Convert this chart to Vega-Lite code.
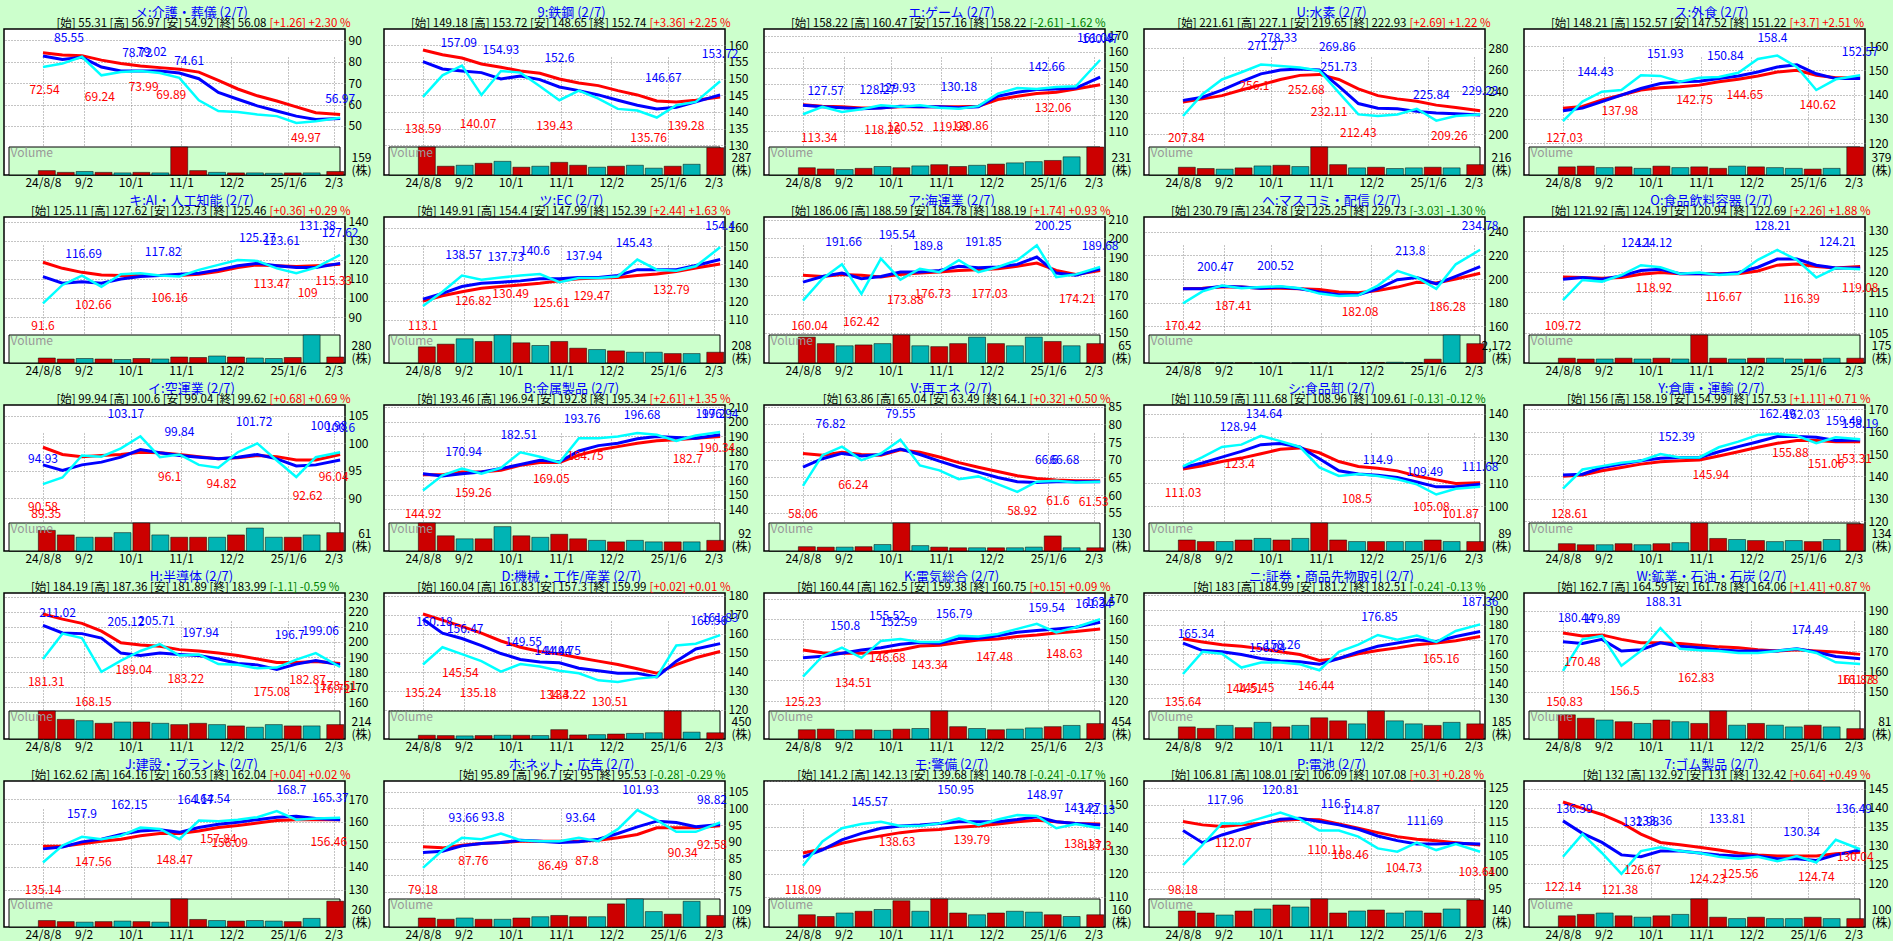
{
"$schema":"https://vega.github.io/schema/vega-lite/v6.json",
"background":"#ccffcc",
"padding":{"left":3,"top":4,"right":0,"bottom":0},
"data":{"values":[
{"p":1,"d":"2024-08-08","a":84.3,"b":82.7,"c":77.6,"v":25,"u":1},{"p":1,"d":"2024-08-20","a":83.2,"b":81.1,"c":79.2,"v":15,"u":1},{"p":1,"d":"2024-09-01","a":82.9,"b":82.1,"c":82.4,"v":20,"u":0},{"p":1,"d":"2024-09-13","a":80.8,"b":77.6,"c":73.7,"v":15,"u":1},{"p":1,"d":"2024-09-25","a":79.2,"b":75.7,"c":75.2,"v":12,"u":0},{"p":1,"d":"2024-10-07","a":78.1,"b":75.7,"c":75.7,"v":15,"u":1},{"p":1,"d":"2024-10-19","a":77.3,"b":75.7,"c":74.8,"v":12,"u":0},{"p":1,"d":"2024-10-31","a":76.5,"b":74.8,"c":72.5,"v":159,"u":1},{"p":1,"d":"2024-11-12","a":75.2,"b":72.1,"c":62,"v":25,"u":1},{"p":1,"d":"2024-11-24","a":71.3,"b":65.7,"c":57,"v":15,"u":0},{"p":1,"d":"2024-12-06","a":67.3,"b":62.5,"c":56.5,"v":12,"u":1},{"p":1,"d":"2024-12-18","a":64.1,"b":59.4,"c":55.4,"v":12,"u":0},{"p":1,"d":"2024-12-30","a":61.7,"b":57,"c":54.6,"v":10,"u":0},{"p":1,"d":"2025-01-11","a":58.9,"b":54.6,"c":51.4,"v":12,"u":1},{"p":1,"d":"2025-01-23","a":56.2,"b":53,"c":52.2,"v":12,"u":0},{"p":1,"d":"2025-02-07","a":55.4,"b":53.5,"c":53.8,"v":20,"u":1},
{"p":2,"d":"2024-08-08","a":158.6,"b":155.1,"c":144.5,"v":287,"u":1},{"p":2,"d":"2024-08-20","a":157.2,"b":152.9,"c":151,"v":90,"u":1},{"p":2,"d":"2024-09-01","a":156.2,"b":152.3,"c":153.9,"v":100,"u":0},{"p":2,"d":"2024-09-13","a":154.4,"b":151.8,"c":145.1,"v":120,"u":1},{"p":2,"d":"2024-09-25","a":153.4,"b":149.9,"c":152.3,"v":140,"u":0},{"p":2,"d":"2024-10-07","a":152.3,"b":150.8,"c":151.8,"v":80,"u":1},{"p":2,"d":"2024-10-19","a":151.6,"b":149.7,"c":147.7,"v":90,"u":0},{"p":2,"d":"2024-10-31","a":149.9,"b":147.5,"c":143.5,"v":130,"u":1},{"p":2,"d":"2024-11-12","a":148.7,"b":146.4,"c":146.4,"v":100,"u":1},{"p":2,"d":"2024-11-24","a":147.9,"b":145.1,"c":144,"v":80,"u":0},{"p":2,"d":"2024-12-06","a":146.4,"b":143.5,"c":140.9,"v":90,"u":1},{"p":2,"d":"2024-12-18","a":145.1,"b":142,"c":140.4,"v":100,"u":0},{"p":2,"d":"2024-12-30","a":143.3,"b":140.9,"c":138.3,"v":70,"u":0},{"p":2,"d":"2025-01-11","a":143,"b":141.4,"c":142,"v":90,"u":1},{"p":2,"d":"2025-01-23","a":143.5,"b":143,"c":143,"v":110,"u":0},{"p":2,"d":"2025-02-07","a":144.5,"b":145.1,"c":149.2,"v":280,"u":1},
{"p":3,"d":"2024-08-08","a":126.7,"b":126.3,"c":120.7,"v":60,"u":1},{"p":3,"d":"2024-08-20","a":125.8,"b":125.4,"c":125.4,"v":50,"u":1},{"p":3,"d":"2024-09-01","a":125.4,"b":124.8,"c":122.1,"v":45,"u":0},{"p":3,"d":"2024-09-13","a":124.6,"b":124.2,"c":123.8,"v":55,"u":1},{"p":3,"d":"2024-09-25","a":124.8,"b":124.6,"c":126.3,"v":70,"u":0},{"p":3,"d":"2024-10-07","a":125.4,"b":125.8,"c":125.4,"v":60,"u":1},{"p":3,"d":"2024-10-19","a":125.4,"b":125.4,"c":126.3,"v":75,"u":0},{"p":3,"d":"2024-10-31","a":125.4,"b":125.4,"c":124.8,"v":85,"u":1},{"p":3,"d":"2024-11-12","a":125.4,"b":124.8,"c":124.2,"v":70,"u":1},{"p":3,"d":"2024-11-24","a":125.8,"b":125.4,"c":125.8,"v":80,"u":0},{"p":3,"d":"2024-12-06","a":130,"b":132,"c":133.7,"v":90,"u":1},{"p":3,"d":"2024-12-18","a":132,"b":134.5,"c":137.2,"v":100,"u":0},{"p":3,"d":"2024-12-30","a":133.7,"b":136.2,"c":136.6,"v":110,"u":0},{"p":3,"d":"2025-01-11","a":134.5,"b":136.6,"c":137.8,"v":120,"u":1},{"p":3,"d":"2025-01-23","a":136.6,"b":137.2,"c":138.3,"v":150,"u":0},{"p":3,"d":"2025-02-07","a":139.3,"b":144,"c":154.8,"v":231,"u":1},
{"p":4,"d":"2024-08-08","a":230.1,"b":231.6,"c":217.1,"v":60,"u":1},{"p":4,"d":"2024-08-20","a":233,"b":234.5,"c":237.4,"v":50,"u":1},{"p":4,"d":"2024-09-01","a":236,"b":241.2,"c":251,"v":45,"u":0},{"p":4,"d":"2024-09-13","a":241.2,"b":249,"c":257.7,"v":55,"u":1},{"p":4,"d":"2024-09-25","a":246,"b":256.2,"c":264.9,"v":70,"u":0},{"p":4,"d":"2024-10-07","a":251,"b":259.7,"c":263.5,"v":75,"u":1},{"p":4,"d":"2024-10-19","a":254.8,"b":260.6,"c":262,"v":65,"u":0},{"p":4,"d":"2024-10-31","a":255.7,"b":259.7,"c":259.1,"v":216,"u":1},{"p":4,"d":"2024-11-12","a":251,"b":244.6,"c":238.8,"v":80,"u":1},{"p":4,"d":"2024-11-24","a":242.3,"b":228.7,"c":218.6,"v":55,"u":0},{"p":4,"d":"2024-12-06","a":236,"b":224.3,"c":217.1,"v":60,"u":1},{"p":4,"d":"2024-12-18","a":233,"b":223.8,"c":218.6,"v":50,"u":0},{"p":4,"d":"2024-12-30","a":230.7,"b":221.4,"c":223.8,"v":55,"u":0},{"p":4,"d":"2025-01-11","a":227.2,"b":220,"c":212.8,"v":60,"u":1},{"p":4,"d":"2025-01-23","a":224.9,"b":219.1,"c":217.1,"v":55,"u":0},{"p":4,"d":"2025-02-07","a":222,"b":218,"c":218.6,"v":80,"u":1},
{"p":5,"d":"2024-08-08","a":134.4,"b":133.3,"c":129,"v":110,"u":1},{"p":5,"d":"2024-08-20","a":135.1,"b":134.4,"c":137.1,"v":120,"u":1},{"p":5,"d":"2024-09-01","a":137.8,"b":137.1,"c":141.2,"v":100,"u":0},{"p":5,"d":"2024-09-13","a":139.8,"b":139.8,"c":141.9,"v":110,"u":1},{"p":5,"d":"2024-09-25","a":141.9,"b":142.5,"c":148,"v":90,"u":0},{"p":5,"d":"2024-10-07","a":142.8,"b":144.6,"c":147.7,"v":120,"u":1},{"p":5,"d":"2024-10-19","a":143.2,"b":145.3,"c":145.3,"v":100,"u":0},{"p":5,"d":"2024-10-31","a":143.9,"b":145.5,"c":146.9,"v":110,"u":1},{"p":5,"d":"2024-11-12","a":145.3,"b":146.6,"c":147.3,"v":90,"u":1},{"p":5,"d":"2024-11-24","a":146.3,"b":147.7,"c":149,"v":120,"u":0},{"p":5,"d":"2024-12-06","a":147.7,"b":149.3,"c":154.7,"v":110,"u":1},{"p":5,"d":"2024-12-18","a":149.3,"b":151.4,"c":156.1,"v":100,"u":0},{"p":5,"d":"2024-12-30","a":150,"b":152.3,"c":151.4,"v":90,"u":0},{"p":5,"d":"2025-01-11","a":148,"b":148.6,"c":141.9,"v":80,"u":1},{"p":5,"d":"2025-01-23","a":146.9,"b":146.6,"c":146.3,"v":90,"u":0},{"p":5,"d":"2025-02-07","a":146.9,"b":146.6,"c":148,"v":379,"u":1},
{"p":6,"d":"2024-08-08","a":118.7,"b":111.2,"c":97.2,"v":50,"u":1},{"p":6,"d":"2024-08-20","a":115.5,"b":107.7,"c":106.8,"v":40,"u":1},{"p":6,"d":"2024-09-01","a":113.4,"b":108.5,"c":111.7,"v":45,"u":0},{"p":6,"d":"2024-09-13","a":112,"b":107.7,"c":105.9,"v":40,"u":1},{"p":6,"d":"2024-09-25","a":111.7,"b":109.9,"c":112.4,"v":35,"u":0},{"p":6,"d":"2024-10-07","a":111.7,"b":111.2,"c":112.9,"v":45,"u":1},{"p":6,"d":"2024-10-19","a":111.7,"b":111.7,"c":111.7,"v":40,"u":0},{"p":6,"d":"2024-10-31","a":111.7,"b":112.4,"c":111.2,"v":60,"u":1},{"p":6,"d":"2024-11-12","a":112.4,"b":112.9,"c":114.7,"v":55,"u":1},{"p":6,"d":"2024-11-24","a":113.8,"b":114.7,"c":117.3,"v":70,"u":0},{"p":6,"d":"2024-12-06","a":115.9,"b":116.9,"c":119.9,"v":60,"u":1},{"p":6,"d":"2024-12-18","a":117.3,"b":118.1,"c":119.4,"v":50,"u":0},{"p":6,"d":"2024-12-30","a":116.9,"b":116.9,"c":115.5,"v":45,"u":0},{"p":6,"d":"2025-01-11","a":116.4,"b":115.9,"c":112.9,"v":55,"u":1},{"p":6,"d":"2025-01-23","a":116.9,"b":115.9,"c":115.9,"v":280,"u":0},{"p":6,"d":"2025-02-07","a":117.6,"b":118.1,"c":122.5,"v":60,"u":1},
{"p":7,"d":"2024-08-08","a":120.1,"b":121.2,"c":117.5,"v":120,"u":1},{"p":7,"d":"2024-08-20","a":123,"b":124.3,"c":125.2,"v":140,"u":1},{"p":7,"d":"2024-09-01","a":125.2,"b":128,"c":134,"v":180,"u":0},{"p":7,"d":"2024-09-13","a":127.1,"b":129.8,"c":131.7,"v":160,"u":1},{"p":7,"d":"2024-09-25","a":128,"b":130.4,"c":132.9,"v":208,"u":0},{"p":7,"d":"2024-10-07","a":128.9,"b":131.1,"c":134,"v":150,"u":1},{"p":7,"d":"2024-10-19","a":129.8,"b":132.2,"c":134.8,"v":130,"u":0},{"p":7,"d":"2024-10-31","a":131.1,"b":132.2,"c":130.4,"v":160,"u":1},{"p":7,"d":"2024-11-12","a":132.2,"b":132.9,"c":132.6,"v":110,"u":1},{"p":7,"d":"2024-11-24","a":132.6,"b":132.9,"c":132.6,"v":100,"u":0},{"p":7,"d":"2024-12-06","a":132.9,"b":134,"c":133.5,"v":90,"u":1},{"p":7,"d":"2024-12-18","a":134,"b":137.2,"c":142.7,"v":80,"u":0},{"p":7,"d":"2024-12-30","a":134.8,"b":137.2,"c":137.2,"v":80,"u":0},{"p":7,"d":"2025-01-11","a":136.2,"b":137.2,"c":136.6,"v":70,"u":1},{"p":7,"d":"2025-01-23","a":138.1,"b":139.5,"c":139,"v":70,"u":0},{"p":7,"d":"2025-02-07","a":140.3,"b":142.7,"c":149.4,"v":80,"u":1},
{"p":8,"d":"2024-08-08","a":180.5,"b":176.9,"c":167.1,"v":60,"u":1},{"p":8,"d":"2024-08-20","a":179.9,"b":179.9,"c":178.7,"v":45,"u":1},{"p":8,"d":"2024-09-01","a":181,"b":181.7,"c":186.3,"v":40,"u":0},{"p":8,"d":"2024-09-13","a":180.5,"b":178.7,"c":170.7,"v":42,"u":1},{"p":8,"d":"2024-09-25","a":179.6,"b":179.9,"c":189.3,"v":45,"u":0},{"p":8,"d":"2024-10-07","a":181,"b":182.2,"c":178.2,"v":65,"u":1},{"p":8,"d":"2024-10-19","a":181.7,"b":182.2,"c":184,"v":40,"u":0},{"p":8,"d":"2024-10-31","a":182.2,"b":183.1,"c":182.2,"v":38,"u":1},{"p":8,"d":"2024-11-12","a":183.1,"b":185.3,"c":188.5,"v":45,"u":1},{"p":8,"d":"2024-11-24","a":183.5,"b":184.5,"c":182.2,"v":60,"u":0},{"p":8,"d":"2024-12-06","a":184,"b":184.9,"c":184.9,"v":45,"u":1},{"p":8,"d":"2024-12-18","a":185.3,"b":186.3,"c":188.5,"v":40,"u":0},{"p":8,"d":"2024-12-30","a":187,"b":190.2,"c":196.4,"v":60,"u":0},{"p":8,"d":"2025-01-11","a":183.1,"b":181.7,"c":179.6,"v":50,"u":1},{"p":8,"d":"2025-01-23","a":181,"b":180.5,"c":181,"v":40,"u":0},{"p":8,"d":"2025-02-07","a":183.1,"b":184,"c":184.9,"v":45,"u":1},
{"p":9,"d":"2024-08-08","a":191.8,"b":191.8,"c":179.4,"v":30,"u":1},{"p":9,"d":"2024-08-20","a":192.3,"b":191.8,"c":189.6,"v":20,"u":1},{"p":9,"d":"2024-09-01","a":193.2,"b":194,"c":194.5,"v":20,"u":0},{"p":9,"d":"2024-09-13","a":193.2,"b":193.2,"c":192.3,"v":20,"u":1},{"p":9,"d":"2024-09-25","a":192.3,"b":192.3,"c":193.2,"v":15,"u":0},{"p":9,"d":"2024-10-07","a":192.3,"b":193.2,"c":194,"v":15,"u":1},{"p":9,"d":"2024-10-19","a":191.8,"b":191.8,"c":192.3,"v":15,"u":0},{"p":9,"d":"2024-10-31","a":191.2,"b":189,"c":187.7,"v":15,"u":1},{"p":9,"d":"2024-11-12","a":189,"b":186.8,"c":185.7,"v":15,"u":1},{"p":9,"d":"2024-11-24","a":188.5,"b":186.8,"c":186.3,"v":20,"u":0},{"p":9,"d":"2024-12-06","a":190.4,"b":191.8,"c":194.5,"v":40,"u":1},{"p":9,"d":"2024-12-18","a":193.2,"b":199.5,"c":206.9,"v":60,"u":0},{"p":9,"d":"2024-12-30","a":197.3,"b":201.4,"c":201.4,"v":40,"u":0},{"p":9,"d":"2025-01-11","a":196.7,"b":195.9,"c":191.8,"v":300,"u":1},{"p":9,"d":"2025-01-23","a":200.1,"b":202.3,"c":212.5,"v":2172,"u":0},{"p":9,"d":"2025-02-07","a":205,"b":210.5,"c":224.8,"v":1500,"u":1},
{"p":10,"d":"2024-08-08","a":118.7,"b":118.2,"c":113.1,"v":30,"u":1},{"p":10,"d":"2024-08-20","a":118.6,"b":118.6,"c":118,"v":25,"u":1},{"p":10,"d":"2024-09-01","a":118.4,"b":118.2,"c":117.6,"v":25,"u":0},{"p":10,"d":"2024-09-13","a":118.6,"b":119,"c":119.2,"v":30,"u":1},{"p":10,"d":"2024-09-25","a":119.4,"b":120.3,"c":121.6,"v":25,"u":0},{"p":10,"d":"2024-10-07","a":119.8,"b":120.6,"c":121.1,"v":30,"u":1},{"p":10,"d":"2024-10-19","a":119.5,"b":119.5,"c":119.5,"v":25,"u":0},{"p":10,"d":"2024-10-31","a":119.5,"b":119.5,"c":119.8,"v":175,"u":1},{"p":10,"d":"2024-11-12","a":119.5,"b":119.4,"c":119.2,"v":30,"u":1},{"p":10,"d":"2024-11-24","a":119.5,"b":119.8,"c":119.5,"v":25,"u":0},{"p":10,"d":"2024-12-06","a":120.2,"b":121.1,"c":122.9,"v":30,"u":1},{"p":10,"d":"2024-12-18","a":121.6,"b":123.1,"c":125.3,"v":30,"u":0},{"p":10,"d":"2024-12-30","a":121.9,"b":123.1,"c":122.9,"v":25,"u":0},{"p":10,"d":"2025-01-11","a":121.3,"b":121.6,"c":118.6,"v":25,"u":1},{"p":10,"d":"2025-01-23","a":120.9,"b":120.9,"c":120.9,"v":30,"u":0},{"p":10,"d":"2025-02-07","a":121.3,"b":120.9,"c":120.6,"v":30,"u":1},
{"p":11,"d":"2024-08-08","a":99.3,"b":96.1,"c":92.6,"v":45,"u":1},{"p":11,"d":"2024-08-20","a":98,"b":95.1,"c":93.8,"v":35,"u":1},{"p":11,"d":"2024-09-01","a":97.6,"b":96.1,"c":97.8,"v":30,"u":0},{"p":11,"d":"2024-09-13","a":97.8,"b":96.6,"c":97.6,"v":30,"u":1},{"p":11,"d":"2024-09-25","a":98,"b":97.5,"c":99.1,"v":40,"u":0},{"p":11,"d":"2024-10-07","a":98.4,"b":98.9,"c":101.3,"v":61,"u":1},{"p":11,"d":"2024-10-19","a":98.3,"b":98.3,"c":97.5,"v":35,"u":0},{"p":11,"d":"2024-10-31","a":98,"b":97.8,"c":98,"v":30,"u":1},{"p":11,"d":"2024-11-12","a":97.6,"b":97.5,"c":96.1,"v":30,"u":1},{"p":11,"d":"2024-11-24","a":97.2,"b":97.2,"c":95.6,"v":30,"u":0},{"p":11,"d":"2024-12-06","a":97.4,"b":97.5,"c":98.4,"v":35,"u":1},{"p":11,"d":"2024-12-18","a":97.8,"b":98,"c":100,"v":50,"u":0},{"p":11,"d":"2024-12-30","a":97.6,"b":97.2,"c":96.9,"v":30,"u":0},{"p":11,"d":"2025-01-11","a":97,"b":95.9,"c":93.9,"v":30,"u":1},{"p":11,"d":"2025-01-23","a":97,"b":96.1,"c":97.5,"v":35,"u":0},{"p":11,"d":"2025-02-07","a":98,"b":97,"c":98.4,"v":40,"u":1},
{"p":12,"d":"2024-08-08","a":163.7,"b":164.4,"c":152.8,"v":92,"u":1},{"p":12,"d":"2024-08-20","a":163.7,"b":162.8,"c":163.3,"v":50,"u":1},{"p":12,"d":"2024-09-01","a":165.6,"b":164.4,"c":167.9,"v":40,"u":0},{"p":12,"d":"2024-09-13","a":165.6,"b":165.6,"c":164.4,"v":40,"u":1},{"p":12,"d":"2024-09-25","a":166.7,"b":167.9,"c":168.4,"v":80,"u":0},{"p":12,"d":"2024-10-07","a":170.2,"b":170.7,"c":179.1,"v":50,"u":1},{"p":12,"d":"2024-10-19","a":172.1,"b":173.7,"c":176,"v":45,"u":0},{"p":12,"d":"2024-10-31","a":172.1,"b":172.6,"c":172.1,"v":55,"u":1},{"p":12,"d":"2024-11-12","a":177.2,"b":180,"c":188.8,"v":40,"u":1},{"p":12,"d":"2024-11-24","a":180.7,"b":183.7,"c":188.8,"v":35,"u":0},{"p":12,"d":"2024-12-06","a":183,"b":185.3,"c":190,"v":30,"u":1},{"p":12,"d":"2024-12-18","a":185.3,"b":188.4,"c":192.3,"v":35,"u":0},{"p":12,"d":"2024-12-30","a":187,"b":190,"c":191.2,"v":30,"u":0},{"p":12,"d":"2025-01-11","a":187.7,"b":189.3,"c":187,"v":30,"u":1},{"p":12,"d":"2025-01-23","a":188.8,"b":188.8,"c":190.7,"v":30,"u":0},{"p":12,"d":"2025-02-07","a":190,"b":191.2,"c":193,"v":35,"u":1},
{"p":13,"d":"2024-08-08","a":71.8,"b":67.9,"c":62.6,"v":20,"u":1},{"p":13,"d":"2024-08-20","a":71.3,"b":70.3,"c":71.3,"v":18,"u":1},{"p":13,"d":"2024-09-01","a":72.1,"b":71.8,"c":73.7,"v":18,"u":0},{"p":13,"d":"2024-09-13","a":71.5,"b":71.1,"c":69.9,"v":20,"u":1},{"p":13,"d":"2024-09-25","a":71.3,"b":71.5,"c":71.8,"v":30,"u":0},{"p":13,"d":"2024-10-07","a":72.8,"b":73,"c":75.7,"v":130,"u":1},{"p":13,"d":"2024-10-19","a":72.1,"b":71.5,"c":68.4,"v":25,"u":0},{"p":13,"d":"2024-10-31","a":70.8,"b":69.6,"c":67,"v":18,"u":1},{"p":13,"d":"2024-11-12","a":69.2,"b":67.9,"c":64.5,"v":15,"u":1},{"p":13,"d":"2024-11-24","a":67.9,"b":66.5,"c":65.3,"v":15,"u":0},{"p":13,"d":"2024-12-06","a":66.7,"b":65,"c":63.1,"v":15,"u":1},{"p":13,"d":"2024-12-18","a":65.5,"b":63.8,"c":60.9,"v":15,"u":0},{"p":13,"d":"2024-12-30","a":64.7,"b":63.6,"c":63.8,"v":18,"u":0},{"p":13,"d":"2025-01-11","a":64.3,"b":63.8,"c":64.1,"v":70,"u":1},{"p":13,"d":"2025-01-23","a":64.1,"b":63.8,"c":63.6,"v":15,"u":0},{"p":13,"d":"2025-02-07","a":64.1,"b":63.8,"c":63.8,"v":15,"u":1},
{"p":14,"d":"2024-08-08","a":116.1,"b":116.8,"c":117.2,"v":35,"u":1},{"p":14,"d":"2024-08-20","a":117.5,"b":118.7,"c":121.2,"v":30,"u":1},{"p":14,"d":"2024-09-01","a":119.3,"b":121.2,"c":125.6,"v":30,"u":0},{"p":14,"d":"2024-09-13","a":120.8,"b":123.7,"c":126.6,"v":35,"u":1},{"p":14,"d":"2024-09-25","a":122.7,"b":126.6,"c":130.4,"v":40,"u":0},{"p":14,"d":"2024-10-07","a":124.6,"b":127.1,"c":128.1,"v":35,"u":1},{"p":14,"d":"2024-10-19","a":125.2,"b":125.6,"c":125.6,"v":40,"u":0},{"p":14,"d":"2024-10-31","a":123.1,"b":120.5,"c":116.8,"v":89,"u":1},{"p":14,"d":"2024-11-12","a":119.3,"b":115.3,"c":113.1,"v":35,"u":1},{"p":14,"d":"2024-11-24","a":117.2,"b":113.9,"c":113.9,"v":30,"u":0},{"p":14,"d":"2024-12-06","a":116.4,"b":113.4,"c":113.1,"v":30,"u":1},{"p":14,"d":"2024-12-18","a":115.3,"b":112.4,"c":111.7,"v":30,"u":0},{"p":14,"d":"2024-12-30","a":113.1,"b":110.5,"c":109.5,"v":30,"u":0},{"p":14,"d":"2025-01-11","a":111.4,"b":108.4,"c":105.1,"v":35,"u":1},{"p":14,"d":"2025-01-23","a":109.9,"b":108.4,"c":107.6,"v":30,"u":0},{"p":14,"d":"2025-02-07","a":110.2,"b":109.5,"c":108.4,"v":30,"u":1},
{"p":15,"d":"2024-08-08","a":140.1,"b":140.6,"c":134.6,"v":35,"u":1},{"p":15,"d":"2024-08-20","a":140.6,"b":141,"c":143.1,"v":30,"u":1},{"p":15,"d":"2024-09-01","a":142.5,"b":144,"c":144.6,"v":30,"u":0},{"p":15,"d":"2024-09-13","a":144,"b":145.5,"c":146.1,"v":35,"u":1},{"p":15,"d":"2024-09-25","a":145.5,"b":147,"c":147,"v":30,"u":0},{"p":15,"d":"2024-10-07","a":146.6,"b":148.1,"c":150,"v":35,"u":1},{"p":15,"d":"2024-10-19","a":147,"b":148.5,"c":148.5,"v":40,"u":0},{"p":15,"d":"2024-10-31","a":147.3,"b":148.5,"c":148.5,"v":134,"u":1},{"p":15,"d":"2024-11-12","a":149.1,"b":151,"c":153,"v":60,"u":1},{"p":15,"d":"2024-11-24","a":151,"b":153.3,"c":155.5,"v":55,"u":0},{"p":15,"d":"2024-12-06","a":153,"b":155.5,"c":158.5,"v":50,"u":1},{"p":15,"d":"2024-12-18","a":154.8,"b":157.8,"c":159,"v":45,"u":0},{"p":15,"d":"2024-12-30","a":156,"b":157.8,"c":158.1,"v":50,"u":0},{"p":15,"d":"2025-01-11","a":156,"b":157.5,"c":154.8,"v":45,"u":1},{"p":15,"d":"2025-01-23","a":155.5,"b":156,"c":157.5,"v":55,"u":0},{"p":15,"d":"2025-02-07","a":155.5,"b":156.3,"c":156.6,"v":130,"u":1},
{"p":16,"d":"2024-08-08","a":218.5,"b":211,"c":188.7,"v":214,"u":1},{"p":16,"d":"2024-08-20","a":215.1,"b":205.9,"c":205.5,"v":150,"u":1},{"p":16,"d":"2024-09-01","a":212.3,"b":205.5,"c":202.5,"v":140,"u":0},{"p":16,"d":"2024-09-13","a":207.1,"b":202.5,"c":180.2,"v":120,"u":1},{"p":16,"d":"2024-09-25","a":199.5,"b":192.6,"c":187.6,"v":130,"u":0},{"p":16,"d":"2024-10-07","a":197.9,"b":191,"c":194,"v":130,"u":1},{"p":16,"d":"2024-10-19","a":197.2,"b":192.6,"c":198.6,"v":120,"u":0},{"p":16,"d":"2024-10-31","a":194.9,"b":191.7,"c":191,"v":110,"u":1},{"p":16,"d":"2024-11-12","a":194,"b":191,"c":191.7,"v":120,"u":1},{"p":16,"d":"2024-11-24","a":192.6,"b":188.7,"c":185.3,"v":110,"u":0},{"p":16,"d":"2024-12-06","a":191,"b":185.7,"c":184.8,"v":100,"u":1},{"p":16,"d":"2024-12-18","a":188.7,"b":184.8,"c":182.5,"v":90,"u":0},{"p":16,"d":"2024-12-30","a":186.4,"b":181.8,"c":183,"v":110,"u":0},{"p":16,"d":"2025-01-11","a":186.4,"b":185.3,"c":188.3,"v":100,"u":1},{"p":16,"d":"2025-01-23","a":187.1,"b":187.6,"c":192.6,"v":100,"u":0},{"p":16,"d":"2025-02-07","a":185.7,"b":184.8,"c":183.4,"v":110,"u":1},
{"p":17,"d":"2024-08-08","a":170.5,"b":167.7,"c":143.9,"v":60,"u":1},{"p":17,"d":"2024-08-20","a":167.3,"b":160.4,"c":153,"v":55,"u":1},{"p":17,"d":"2024-09-01","a":164,"b":157.6,"c":149.4,"v":50,"u":0},{"p":17,"d":"2024-09-13","a":160.4,"b":153.9,"c":145.7,"v":55,"u":1},{"p":17,"d":"2024-09-25","a":156.3,"b":149.7,"c":140.2,"v":60,"u":0},{"p":17,"d":"2024-10-07","a":153,"b":146.6,"c":144.2,"v":60,"u":1},{"p":17,"d":"2024-10-19","a":150.8,"b":145.3,"c":142.9,"v":55,"u":0},{"p":17,"d":"2024-10-31","a":149.4,"b":144.8,"c":140.6,"v":150,"u":1},{"p":17,"d":"2024-11-12","a":147.5,"b":142,"c":139.3,"v":65,"u":1},{"p":17,"d":"2024-11-24","a":145.7,"b":140.6,"c":135.6,"v":70,"u":0},{"p":17,"d":"2024-12-06","a":143.9,"b":139.3,"c":134.7,"v":80,"u":1},{"p":17,"d":"2024-12-18","a":141.7,"b":139.3,"c":136.5,"v":90,"u":0},{"p":17,"d":"2024-12-30","a":139.3,"b":137.4,"c":137.4,"v":100,"u":0},{"p":17,"d":"2025-01-11","a":143.9,"b":145.7,"c":153.9,"v":450,"u":1},{"p":17,"d":"2025-01-23","a":147.5,"b":152.1,"c":154.9,"v":110,"u":0},{"p":17,"d":"2025-02-07","a":150.8,"b":154.9,"c":159.4,"v":100,"u":1},
{"p":18,"d":"2024-08-08","a":144.8,"b":141,"c":131.8,"v":150,"u":1},{"p":18,"d":"2024-08-20","a":143.5,"b":141.8,"c":141.8,"v":160,"u":1},{"p":18,"d":"2024-09-01","a":143.2,"b":143.2,"c":146,"v":140,"u":0},{"p":18,"d":"2024-09-13","a":143.2,"b":144.8,"c":141,"v":150,"u":1},{"p":18,"d":"2024-09-25","a":143.8,"b":146,"c":149.3,"v":140,"u":0},{"p":18,"d":"2024-10-07","a":144.8,"b":147.7,"c":150.2,"v":160,"u":1},{"p":18,"d":"2024-10-19","a":146.8,"b":148.5,"c":148.8,"v":170,"u":0},{"p":18,"d":"2024-10-31","a":147.2,"b":148.2,"c":148.8,"v":454,"u":1},{"p":18,"d":"2024-11-12","a":148.5,"b":150.5,"c":151.8,"v":200,"u":1},{"p":18,"d":"2024-11-24","a":149.8,"b":150.5,"c":151.5,"v":170,"u":0},{"p":18,"d":"2024-12-06","a":150.2,"b":151.8,"c":152.7,"v":150,"u":1},{"p":18,"d":"2024-12-18","a":151.5,"b":153.5,"c":155.2,"v":160,"u":0},{"p":18,"d":"2024-12-30","a":152.2,"b":154.4,"c":157.7,"v":180,"u":0},{"p":18,"d":"2025-01-11","a":153.2,"b":155.2,"c":153.5,"v":200,"u":1},{"p":18,"d":"2025-01-23","a":153.9,"b":156,"c":156,"v":220,"u":0},{"p":18,"d":"2025-02-07","a":155.2,"b":158.5,"c":159.9,"v":250,"u":1},
{"p":19,"d":"2024-08-08","a":170.5,"b":167.6,"c":146.5,"v":80,"u":1},{"p":19,"d":"2024-08-20","a":168.3,"b":162.5,"c":161.6,"v":70,"u":1},{"p":19,"d":"2024-09-01","a":166.5,"b":161.6,"c":160.3,"v":90,"u":0},{"p":19,"d":"2024-09-13","a":165.4,"b":159.8,"c":150.9,"v":75,"u":1},{"p":19,"d":"2024-09-25","a":163.8,"b":157.1,"c":154.3,"v":110,"u":0},{"p":19,"d":"2024-10-07","a":161.6,"b":155.4,"c":154.3,"v":80,"u":1},{"p":19,"d":"2024-10-19","a":159.8,"b":154.9,"c":153.1,"v":90,"u":0},{"p":19,"d":"2024-10-31","a":155.8,"b":153.1,"c":149.1,"v":140,"u":1},{"p":19,"d":"2024-11-12","a":157.1,"b":157.1,"c":161.6,"v":120,"u":1},{"p":19,"d":"2024-11-24","a":160.3,"b":161.6,"c":166.5,"v":100,"u":0},{"p":19,"d":"2024-12-06","a":162.5,"b":165.4,"c":173.1,"v":185,"u":1},{"p":19,"d":"2024-12-18","a":164.3,"b":167.6,"c":169.8,"v":120,"u":0},{"p":19,"d":"2024-12-30","a":166.5,"b":169.8,"c":172.7,"v":100,"u":0},{"p":19,"d":"2025-01-11","a":167.6,"b":168.7,"c":168.3,"v":90,"u":1},{"p":19,"d":"2025-01-23","a":169.1,"b":172,"c":175.8,"v":110,"u":0},{"p":19,"d":"2025-02-07","a":172,"b":175.4,"c":180.3,"v":100,"u":1},
{"p":20,"d":"2024-08-08","a":178.9,"b":174.6,"c":160.3,"v":70,"u":1},{"p":20,"d":"2024-08-20","a":177.5,"b":173.8,"c":175.8,"v":60,"u":1},{"p":20,"d":"2024-09-01","a":178,"b":175.8,"c":177.5,"v":55,"u":0},{"p":20,"d":"2024-09-13","a":175.8,"b":170.1,"c":162.8,"v":50,"u":1},{"p":20,"d":"2024-09-25","a":174.1,"b":170.7,"c":170.1,"v":45,"u":0},{"p":20,"d":"2024-10-07","a":174.1,"b":174.1,"c":181.4,"v":55,"u":1},{"p":20,"d":"2024-10-19","a":173.8,"b":172.4,"c":171.2,"v":50,"u":0},{"p":20,"d":"2024-10-31","a":172.9,"b":171.7,"c":170.4,"v":45,"u":1},{"p":20,"d":"2024-11-12","a":172.1,"b":170.7,"c":170.1,"v":81,"u":1},{"p":20,"d":"2024-11-24","a":171.7,"b":170.1,"c":169.1,"v":40,"u":0},{"p":20,"d":"2024-12-06","a":170.7,"b":170.1,"c":169.1,"v":45,"u":1},{"p":20,"d":"2024-12-18","a":170.1,"b":170.1,"c":170.1,"v":40,"u":0},{"p":20,"d":"2024-12-30","a":170.7,"b":171.2,"c":171.2,"v":35,"u":0},{"p":20,"d":"2025-01-11","a":170.1,"b":169.6,"c":169.1,"v":40,"u":1},{"p":20,"d":"2025-01-23","a":169.6,"b":167.4,"c":164.5,"v":35,"u":0},{"p":20,"d":"2025-02-07","a":168.4,"b":166.2,"c":163.6,"v":30,"u":1},
{"p":21,"d":"2024-08-08","a":149.2,"b":148,"c":142,"v":60,"u":1},{"p":21,"d":"2024-08-20","a":149.2,"b":148.8,"c":149.5,"v":50,"u":1},{"p":21,"d":"2024-09-01","a":150.3,"b":151.1,"c":153.3,"v":45,"u":0},{"p":21,"d":"2024-09-13","a":151.4,"b":152.3,"c":152.3,"v":50,"u":1},{"p":21,"d":"2024-09-25","a":152.3,"b":154.4,"c":153.8,"v":55,"u":0},{"p":21,"d":"2024-10-07","a":153.8,"b":155.9,"c":157.4,"v":50,"u":1},{"p":21,"d":"2024-10-19","a":154.8,"b":156.4,"c":156.8,"v":45,"u":0},{"p":21,"d":"2024-10-31","a":154.8,"b":155.3,"c":152.3,"v":260,"u":1},{"p":21,"d":"2024-11-12","a":155.9,"b":157.4,"c":160.5,"v":70,"u":1},{"p":21,"d":"2024-11-24","a":157.4,"b":158.9,"c":160.2,"v":60,"u":0},{"p":21,"d":"2024-12-06","a":158.3,"b":159.8,"c":160.9,"v":55,"u":1},{"p":21,"d":"2024-12-18","a":159.4,"b":160.9,"c":162,"v":60,"u":0},{"p":21,"d":"2024-12-30","a":160.5,"b":162,"c":164.7,"v":55,"u":0},{"p":21,"d":"2025-01-11","a":160.9,"b":162.4,"c":160.9,"v":50,"u":1},{"p":21,"d":"2025-01-23","a":160.9,"b":161.4,"c":161.4,"v":80,"u":0},{"p":21,"d":"2025-02-07","a":160.9,"b":160.9,"c":161.7,"v":240,"u":1},
{"p":22,"d":"2024-08-08","a":88.5,"b":86.8,"c":82.2,"v":35,"u":1},{"p":22,"d":"2024-08-20","a":88.2,"b":87.2,"c":87.5,"v":30,"u":1},{"p":22,"d":"2024-09-01","a":89,"b":88.8,"c":91.2,"v":35,"u":0},{"p":22,"d":"2024-09-13","a":89.5,"b":89.5,"c":90.8,"v":30,"u":1},{"p":22,"d":"2024-09-25","a":89.8,"b":89.8,"c":92.5,"v":30,"u":0},{"p":22,"d":"2024-10-07","a":90.2,"b":90.5,"c":90.5,"v":35,"u":1},{"p":22,"d":"2024-10-19","a":90.2,"b":90.2,"c":90.2,"v":40,"u":0},{"p":22,"d":"2024-10-31","a":90.2,"b":89.8,"c":90.2,"v":45,"u":1},{"p":22,"d":"2024-11-12","a":90.2,"b":90,"c":91.2,"v":40,"u":1},{"p":22,"d":"2024-11-24","a":90.5,"b":90.8,"c":90.2,"v":40,"u":0},{"p":22,"d":"2024-12-06","a":91.2,"b":92.5,"c":93.8,"v":90,"u":1},{"p":22,"d":"2024-12-18","a":92.2,"b":94.5,"c":99.5,"v":109,"u":0},{"p":22,"d":"2024-12-30","a":94.2,"b":96.2,"c":96.5,"v":60,"u":0},{"p":22,"d":"2025-01-11","a":94.2,"b":95.8,"c":93,"v":50,"u":1},{"p":22,"d":"2025-01-23","a":94.2,"b":94.5,"c":93,"v":100,"u":0},{"p":22,"d":"2025-02-07","a":94.8,"b":95.2,"c":95.8,"v":45,"u":1},
{"p":23,"d":"2024-08-08","a":128.9,"b":127.1,"c":123.4,"v":70,"u":1},{"p":23,"d":"2024-08-20","a":130.6,"b":130.3,"c":133.9,"v":60,"u":1},{"p":23,"d":"2024-09-01","a":133.1,"b":134.6,"c":139.6,"v":80,"u":0},{"p":23,"d":"2024-09-13","a":134.9,"b":137.4,"c":141.4,"v":90,"u":1},{"p":23,"d":"2024-09-25","a":136.3,"b":139.6,"c":142.4,"v":100,"u":0},{"p":23,"d":"2024-10-07","a":137.7,"b":140.6,"c":140.6,"v":150,"u":1},{"p":23,"d":"2024-10-19","a":138.6,"b":141,"c":140.6,"v":90,"u":0},{"p":23,"d":"2024-10-31","a":139.1,"b":141.7,"c":141.7,"v":160,"u":1},{"p":23,"d":"2024-11-12","a":140,"b":142.4,"c":143.9,"v":80,"u":1},{"p":23,"d":"2024-11-24","a":140.6,"b":142.4,"c":141,"v":70,"u":0},{"p":23,"d":"2024-12-06","a":141.4,"b":142.4,"c":143.4,"v":80,"u":1},{"p":23,"d":"2024-12-18","a":142.4,"b":143.4,"c":145.3,"v":90,"u":0},{"p":23,"d":"2024-12-30","a":143.1,"b":144.6,"c":144.9,"v":85,"u":0},{"p":23,"d":"2025-01-11","a":142.4,"b":142.4,"c":139.6,"v":70,"u":1},{"p":23,"d":"2025-01-23","a":141.7,"b":141.7,"c":141.4,"v":60,"u":0},{"p":23,"d":"2025-02-07","a":141.4,"b":141,"c":139.6,"v":70,"u":1},
{"p":24,"d":"2024-08-08","a":115,"b":112.3,"c":102,"v":80,"u":1},{"p":24,"d":"2024-08-20","a":114,"b":108.7,"c":108,"v":70,"u":1},{"p":24,"d":"2024-09-01","a":113.5,"b":111,"c":114.5,"v":60,"u":0},{"p":24,"d":"2024-09-13","a":114,"b":112.7,"c":114.3,"v":80,"u":1},{"p":24,"d":"2024-09-25","a":114.5,"b":114.3,"c":116,"v":90,"u":0},{"p":24,"d":"2024-10-07","a":115.3,"b":115.7,"c":117.7,"v":110,"u":1},{"p":24,"d":"2024-10-19","a":115.7,"b":116,"c":115.7,"v":100,"u":0},{"p":24,"d":"2024-10-31","a":115.5,"b":115,"c":112.3,"v":140,"u":1},{"p":24,"d":"2024-11-12","a":114.3,"b":114,"c":112.3,"v":70,"u":1},{"p":24,"d":"2024-11-24","a":113,"b":112.7,"c":110.5,"v":80,"u":0},{"p":24,"d":"2024-12-06","a":111.7,"b":110.7,"c":107,"v":85,"u":1},{"p":24,"d":"2024-12-18","a":110.5,"b":109.3,"c":106,"v":70,"u":0},{"p":24,"d":"2024-12-30","a":109.7,"b":108.3,"c":108.7,"v":80,"u":0},{"p":24,"d":"2025-01-11","a":109.3,"b":108.3,"c":106.5,"v":70,"u":1},{"p":24,"d":"2025-01-23","a":108.7,"b":108.5,"c":108.3,"v":90,"u":0},{"p":24,"d":"2025-02-07","a":108,"b":108.3,"c":106,"v":135,"u":1},
{"p":25,"d":"2024-08-08","a":141.5,"b":136.5,"c":127,"v":40,"u":1},{"p":25,"d":"2024-08-20","a":139.8,"b":133.2,"c":133,"v":45,"u":1},{"p":25,"d":"2024-09-01","a":138.2,"b":130.8,"c":128,"v":50,"u":0},{"p":25,"d":"2024-09-13","a":136,"b":127.5,"c":122.5,"v":40,"u":1},{"p":25,"d":"2024-09-25","a":133,"b":127,"c":128.5,"v":35,"u":0},{"p":25,"d":"2024-10-07","a":130.8,"b":128.5,"c":129.5,"v":40,"u":1},{"p":25,"d":"2024-10-19","a":130.2,"b":128.5,"c":128.5,"v":45,"u":0},{"p":25,"d":"2024-10-31","a":129.5,"b":128,"c":128,"v":100,"u":1},{"p":25,"d":"2024-11-12","a":128.8,"b":127.5,"c":127,"v":35,"u":1},{"p":25,"d":"2024-11-24","a":128,"b":127.2,"c":126.5,"v":30,"u":0},{"p":25,"d":"2024-12-06","a":127.5,"b":127.2,"c":127,"v":35,"u":1},{"p":25,"d":"2024-12-18","a":127.2,"b":126.5,"c":125.8,"v":30,"u":0},{"p":25,"d":"2024-12-30","a":127.2,"b":126.5,"c":127.2,"v":30,"u":0},{"p":25,"d":"2025-01-11","a":127.2,"b":126,"c":125.5,"v":35,"u":1},{"p":25,"d":"2025-01-23","a":127.8,"b":127.5,"c":131.5,"v":30,"u":0},{"p":25,"d":"2025-02-07","a":128.2,"b":128.8,"c":129,"v":30,"u":1},
{"p":1,"e":"2024-08-24","h":85.55},{"p":1,"e":"2024-10-05","h":78.72},{"p":1,"e":"2024-10-14","h":79.02},{"p":1,"e":"2024-11-06","h":74.61},{"p":1,"e":"2025-02-07","h":56.97},{"p":1,"e":"2024-08-09","l":72.54},{"p":1,"e":"2024-09-12","l":69.24},{"p":1,"e":"2024-10-09","l":73.99},{"p":1,"e":"2024-10-26","l":69.89},{"p":1,"e":"2025-01-17","l":49.97},
{"p":2,"e":"2024-08-30","h":157.09},{"p":2,"e":"2024-09-25","h":154.93},{"p":2,"e":"2024-10-31","h":152.6},{"p":2,"e":"2025-01-03","h":146.67},{"p":2,"e":"2025-02-07","h":153.72},{"p":2,"e":"2024-08-08","l":138.59},{"p":2,"e":"2024-09-11","l":140.07},{"p":2,"e":"2024-10-28","l":139.43},{"p":2,"e":"2024-12-25","l":135.76},{"p":2,"e":"2025-01-17","l":139.28},
{"p":3,"e":"2024-08-22","h":127.57},{"p":3,"e":"2024-09-23","h":128.27},{"p":3,"e":"2024-10-05","h":129.93},{"p":3,"e":"2024-11-12","h":130.18},{"p":3,"e":"2025-01-05","h":142.66},{"p":3,"e":"2025-02-04","h":161.08},{"p":3,"e":"2025-02-07","h":160.47},{"p":3,"e":"2024-08-18","l":113.34},{"p":3,"e":"2024-09-26","l":118.26},{"p":3,"e":"2024-10-10","l":120.52},{"p":3,"e":"2024-11-07","l":119.98},{"p":3,"e":"2024-11-19","l":120.86},{"p":3,"e":"2025-01-09","l":132.06},
{"p":4,"e":"2024-09-28","h":271.27},{"p":4,"e":"2024-10-06","h":278.33},{"p":4,"e":"2024-11-11","h":269.86},{"p":4,"e":"2024-11-12","h":251.73},{"p":4,"e":"2025-01-08","h":225.84},{"p":4,"e":"2025-02-07","h":229.23},{"p":4,"e":"2024-08-10","l":207.84},{"p":4,"e":"2024-09-21","l":256.1},{"p":4,"e":"2024-10-23","l":252.68},{"p":4,"e":"2024-11-06","l":232.11},{"p":4,"e":"2024-11-24","l":212.43},{"p":4,"e":"2025-01-19","l":209.26},
{"p":5,"e":"2024-08-28","h":144.43},{"p":5,"e":"2024-10-10","h":151.93},{"p":5,"e":"2024-11-16","h":150.84},{"p":5,"e":"2024-12-15","h":158.4},{"p":5,"e":"2025-02-07","h":152.57},{"p":5,"e":"2024-08-09","l":127.03},{"p":5,"e":"2024-09-12","l":137.98},{"p":5,"e":"2024-10-28","l":142.75},{"p":5,"e":"2024-11-28","l":144.65},{"p":5,"e":"2025-01-12","l":140.62},
{"p":6,"e":"2024-09-02","h":116.69},{"p":6,"e":"2024-10-21","h":117.82},{"p":6,"e":"2024-12-18","h":125.27},{"p":6,"e":"2025-01-02","h":123.61},{"p":6,"e":"2025-01-24","h":131.38},{"p":6,"e":"2025-02-07","h":127.62},{"p":6,"e":"2024-08-08","l":91.6},{"p":6,"e":"2024-09-08","l":102.66},{"p":6,"e":"2024-10-25","l":106.16},{"p":6,"e":"2024-12-27","l":113.47},{"p":6,"e":"2025-01-18","l":109},{"p":6,"e":"2025-02-03","l":115.33},
{"p":7,"e":"2024-09-02","h":138.57},{"p":7,"e":"2024-09-28","h":137.73},{"p":7,"e":"2024-10-16","h":140.6},{"p":7,"e":"2024-11-15","h":137.94},{"p":7,"e":"2024-12-16","h":145.43},{"p":7,"e":"2025-02-07","h":154.4},{"p":7,"e":"2024-08-08","l":113.1},{"p":7,"e":"2024-09-08","l":126.82},{"p":7,"e":"2024-10-01","l":130.49},{"p":7,"e":"2024-10-26","l":125.61},{"p":7,"e":"2024-11-20","l":129.47},{"p":7,"e":"2025-01-08","l":132.79},
{"p":8,"e":"2024-09-02","h":191.66},{"p":8,"e":"2024-10-05","h":195.54},{"p":8,"e":"2024-10-24","h":189.8},{"p":8,"e":"2024-11-27","h":191.85},{"p":8,"e":"2025-01-09","h":200.25},{"p":8,"e":"2025-02-07","h":189.68},{"p":8,"e":"2024-08-12","l":160.04},{"p":8,"e":"2024-09-13","l":162.42},{"p":8,"e":"2024-10-10","l":173.88},{"p":8,"e":"2024-10-27","l":176.73},{"p":8,"e":"2024-12-01","l":177.03},{"p":8,"e":"2025-01-24","l":174.21},
{"p":9,"e":"2024-08-28","h":200.47},{"p":9,"e":"2024-10-04","h":200.52},{"p":9,"e":"2024-12-26","h":213.8},{"p":9,"e":"2025-02-07","h":234.78},{"p":9,"e":"2024-08-08","l":170.42},{"p":9,"e":"2024-09-08","l":187.41},{"p":9,"e":"2024-11-25","l":182.08},{"p":9,"e":"2025-01-18","l":186.28},
{"p":10,"e":"2024-09-22","h":124.1},{"p":10,"e":"2024-10-03","h":124.12},{"p":10,"e":"2024-12-15","h":128.21},{"p":10,"e":"2025-01-24","h":124.21},{"p":10,"e":"2024-08-08","l":109.72},{"p":10,"e":"2024-10-03","l":118.92},{"p":10,"e":"2024-11-15","l":116.67},{"p":10,"e":"2025-01-02","l":116.39},{"p":10,"e":"2025-02-07","l":119.08},
{"p":11,"e":"2024-08-08","h":94.93},{"p":11,"e":"2024-09-28","h":103.17},{"p":11,"e":"2024-10-31","h":99.84},{"p":11,"e":"2024-12-16","h":101.72},{"p":11,"e":"2025-01-31","h":100.98},{"p":11,"e":"2025-02-07","h":100.6},{"p":11,"e":"2024-08-08","l":90.58},{"p":11,"e":"2024-08-10","l":89.35},{"p":11,"e":"2024-10-25","l":96.1},{"p":11,"e":"2024-11-26","l":94.82},{"p":11,"e":"2025-01-18","l":92.62},{"p":11,"e":"2025-02-03","l":96.04},
{"p":12,"e":"2024-09-02","h":170.94},{"p":12,"e":"2024-10-06","h":182.51},{"p":12,"e":"2024-11-14","h":193.76},{"p":12,"e":"2024-12-21","h":196.68},{"p":12,"e":"2025-02-01","h":197.2},{"p":12,"e":"2025-02-07","h":196.94},{"p":12,"e":"2024-08-08","l":144.92},{"p":12,"e":"2024-09-08","l":159.26},{"p":12,"e":"2024-10-26","l":169.05},{"p":12,"e":"2024-11-16","l":184.75},{"p":12,"e":"2025-01-18","l":182.7},{"p":12,"e":"2025-02-05","l":190.34},
{"p":13,"e":"2024-08-25","h":76.82},{"p":13,"e":"2024-10-07","h":79.55},{"p":13,"e":"2025-01-05","h":66.6},{"p":13,"e":"2025-01-16","h":66.68},{"p":13,"e":"2024-08-08","l":58.06},{"p":13,"e":"2024-09-08","l":66.24},{"p":13,"e":"2024-12-21","l":58.92},{"p":13,"e":"2025-01-12","l":61.6},{"p":13,"e":"2025-02-03","l":61.53},
{"p":14,"e":"2024-09-11","h":128.94},{"p":14,"e":"2024-09-27","h":134.64},{"p":14,"e":"2024-12-06","h":114.9},{"p":14,"e":"2025-01-04","h":109.49},{"p":14,"e":"2025-02-07","h":111.68},{"p":14,"e":"2024-08-08","l":111.03},{"p":14,"e":"2024-09-12","l":123.4},{"p":14,"e":"2024-11-23","l":108.5},{"p":14,"e":"2025-01-08","l":105.08},{"p":14,"e":"2025-01-26","l":101.87},
{"p":15,"e":"2024-10-17","h":152.39},{"p":15,"e":"2024-12-18","h":162.49},{"p":15,"e":"2025-01-02","h":162.03},{"p":15,"e":"2025-01-28","h":159.49},{"p":15,"e":"2025-02-07","h":158.19},{"p":15,"e":"2024-08-12","l":128.61},{"p":15,"e":"2024-11-07","l":145.94},{"p":15,"e":"2024-12-26","l":155.88},{"p":15,"e":"2025-01-17","l":151.06},{"p":15,"e":"2025-02-03","l":153.31},
{"p":16,"e":"2024-08-17","h":211.02},{"p":16,"e":"2024-09-28","h":205.12},{"p":16,"e":"2024-10-17","h":205.71},{"p":16,"e":"2024-11-13","h":197.94},{"p":16,"e":"2025-01-07","h":196.7},{"p":16,"e":"2025-01-26","h":199.06},{"p":16,"e":"2024-08-10","l":181.31},{"p":16,"e":"2024-09-08","l":168.15},{"p":16,"e":"2024-10-03","l":189.04},{"p":16,"e":"2024-11-04","l":183.22},{"p":16,"e":"2024-12-27","l":175.08},{"p":16,"e":"2025-01-18","l":182.87},{"p":16,"e":"2025-02-02","l":176.71},{"p":16,"e":"2025-02-06","l":178.51},
{"p":17,"e":"2024-08-15","h":160.18},{"p":17,"e":"2024-09-03","h":156.47},{"p":17,"e":"2024-10-09","h":149.55},{"p":17,"e":"2024-10-27","h":144.94},{"p":17,"e":"2024-11-02","h":144.75},{"p":17,"e":"2025-01-31","h":160.56},{"p":17,"e":"2025-02-07","h":161.83},{"p":17,"e":"2024-08-08","l":135.24},{"p":17,"e":"2024-08-31","l":145.54},{"p":17,"e":"2024-09-11","l":135.18},{"p":17,"e":"2024-10-28","l":134.3},{"p":17,"e":"2024-11-05","l":134.22},{"p":17,"e":"2024-12-01","l":130.51},
{"p":18,"e":"2024-09-03","h":150.8},{"p":18,"e":"2024-09-29","h":155.52},{"p":18,"e":"2024-10-06","h":152.59},{"p":18,"e":"2024-11-09","h":156.79},{"p":18,"e":"2025-01-05","h":159.54},{"p":18,"e":"2025-02-03","h":161.34},{"p":18,"e":"2025-02-07","h":162.5},{"p":18,"e":"2024-08-08","l":125.23},{"p":18,"e":"2024-09-08","l":134.51},{"p":18,"e":"2024-09-29","l":146.68},{"p":18,"e":"2024-10-25","l":143.34},{"p":18,"e":"2024-12-04","l":147.48},{"p":18,"e":"2025-01-16","l":148.63},
{"p":19,"e":"2024-08-16","h":165.34},{"p":19,"e":"2024-09-29","h":156.04},{"p":19,"e":"2024-10-08","h":158.26},{"p":19,"e":"2024-12-07","h":176.85},{"p":19,"e":"2025-02-07","h":187.36},{"p":19,"e":"2024-08-08","l":135.64},{"p":19,"e":"2024-09-15","l":144.51},{"p":19,"e":"2024-09-22","l":145.45},{"p":19,"e":"2024-10-29","l":146.44},{"p":19,"e":"2025-01-14","l":165.16},
{"p":20,"e":"2024-08-16","h":180.44},{"p":20,"e":"2024-09-01","h":179.89},{"p":20,"e":"2024-10-09","h":188.31},{"p":20,"e":"2025-01-07","h":174.49},{"p":20,"e":"2024-08-09","l":150.83},{"p":20,"e":"2024-08-20","l":170.48},{"p":20,"e":"2024-09-15","l":156.5},{"p":20,"e":"2024-10-29","l":162.83},{"p":20,"e":"2025-02-04","l":161.83},{"p":20,"e":"2025-02-07","l":161.78},
{"p":21,"e":"2024-09-01","h":157.9},{"p":21,"e":"2024-09-30","h":162.15},{"p":21,"e":"2024-11-10","h":164.17},{"p":21,"e":"2024-11-20","h":164.54},{"p":21,"e":"2025-01-08","h":168.7},{"p":21,"e":"2025-02-01","h":165.37},{"p":21,"e":"2024-08-08","l":135.14},{"p":21,"e":"2024-09-08","l":147.56},{"p":21,"e":"2024-10-28","l":148.47},{"p":21,"e":"2024-11-24","l":157.84},{"p":21,"e":"2024-12-01","l":156.09},{"p":21,"e":"2025-01-31","l":156.46},
{"p":22,"e":"2024-09-02","h":93.66},{"p":22,"e":"2024-09-20","h":93.8},{"p":22,"e":"2024-11-13","h":93.64},{"p":22,"e":"2024-12-20","h":101.93},{"p":22,"e":"2025-02-02","h":98.82},{"p":22,"e":"2024-08-08","l":79.18},{"p":22,"e":"2024-09-08","l":87.76},{"p":22,"e":"2024-10-27","l":86.49},{"p":22,"e":"2024-11-17","l":87.8},{"p":22,"e":"2025-01-15","l":90.34},{"p":22,"e":"2025-02-02","l":92.58},
{"p":23,"e":"2024-09-18","h":145.57},{"p":23,"e":"2024-11-10","h":150.95},{"p":23,"e":"2025-01-04","h":148.97},{"p":23,"e":"2025-01-27","h":143.27},{"p":23,"e":"2025-02-05","h":142.13},{"p":23,"e":"2024-08-08","l":118.09},{"p":23,"e":"2024-10-05","l":138.63},{"p":23,"e":"2024-11-20","l":139.79},{"p":23,"e":"2025-01-27","l":138.13},{"p":23,"e":"2025-02-05","l":137.3},
{"p":24,"e":"2024-09-03","h":117.96},{"p":24,"e":"2024-10-07","h":120.81},{"p":24,"e":"2024-11-10","h":116.5},{"p":24,"e":"2024-11-26","h":114.87},{"p":24,"e":"2025-01-04","h":111.69},{"p":24,"e":"2024-08-08","l":98.18},{"p":24,"e":"2024-09-08","l":112.07},{"p":24,"e":"2024-11-04","l":110.11},{"p":24,"e":"2024-11-19","l":108.46},{"p":24,"e":"2024-12-22","l":104.73},{"p":24,"e":"2025-02-05","l":103.64},
{"p":25,"e":"2024-08-15","h":136.39},{"p":25,"e":"2024-09-25","h":132.98},{"p":25,"e":"2024-10-03","h":133.36},{"p":25,"e":"2024-11-17","h":133.81},{"p":25,"e":"2025-01-02","h":130.34},{"p":25,"e":"2025-02-03","h":136.49},{"p":25,"e":"2024-08-08","l":122.14},{"p":25,"e":"2024-09-12","l":121.38},{"p":25,"e":"2024-09-26","l":126.67},{"p":25,"e":"2024-11-05","l":124.23},{"p":25,"e":"2024-11-25","l":125.56},{"p":25,"e":"2025-01-11","l":124.74},{"p":25,"e":"2025-02-04","l":130.04},
{"p":1,"k":1,"t":"[始] 55.31 [高] 56.97 [安] 54.92 [終] 56.08"},{"p":1,"k":2,"t":"[+1.26] +2.30 %"},
{"p":2,"k":1,"t":"[始] 149.18 [高] 153.72 [安] 148.65 [終] 152.74"},{"p":2,"k":2,"t":"[+3.36] +2.25 %"},
{"p":3,"k":1,"t":"[始] 158.22 [高] 160.47 [安] 157.16 [終] 158.22"},{"p":3,"k":2,"t":"[-2.61] -1.62 %"},
{"p":4,"k":1,"t":"[始] 221.61 [高] 227.1 [安] 219.65 [終] 222.93"},{"p":4,"k":2,"t":"[+2.69] +1.22 %"},
{"p":5,"k":1,"t":"[始] 148.21 [高] 152.57 [安] 147.52 [終] 151.22"},{"p":5,"k":2,"t":"[+3.7] +2.51 %"},
{"p":6,"k":1,"t":"[始] 125.11 [高] 127.62 [安] 123.73 [終] 125.46"},{"p":6,"k":2,"t":"[+0.36] +0.29 %"},
{"p":7,"k":1,"t":"[始] 149.91 [高] 154.4 [安] 147.99 [終] 152.39"},{"p":7,"k":2,"t":"[+2.44] +1.63 %"},
{"p":8,"k":1,"t":"[始] 186.06 [高] 188.59 [安] 184.78 [終] 188.19"},{"p":8,"k":2,"t":"[+1.74] +0.93 %"},
{"p":9,"k":1,"t":"[始] 230.79 [高] 234.78 [安] 225.25 [終] 229.73"},{"p":9,"k":2,"t":"[-3.03] -1.30 %"},
{"p":10,"k":1,"t":"[始] 121.92 [高] 124.19 [安] 120.94 [終] 122.69"},{"p":10,"k":2,"t":"[+2.26] +1.88 %"},
{"p":11,"k":1,"t":"[始] 99.94 [高] 100.6 [安] 99.04 [終] 99.62"},{"p":11,"k":2,"t":"[+0.68] +0.69 %"},
{"p":12,"k":1,"t":"[始] 193.46 [高] 196.94 [安] 192.8 [終] 195.34"},{"p":12,"k":2,"t":"[+2.61] +1.35 %"},
{"p":13,"k":1,"t":"[始] 63.86 [高] 65.04 [安] 63.49 [終] 64.1"},{"p":13,"k":2,"t":"[+0.32] +0.50 %"},
{"p":14,"k":1,"t":"[始] 110.59 [高] 111.68 [安] 108.96 [終] 109.61"},{"p":14,"k":2,"t":"[-0.13] -0.12 %"},
{"p":15,"k":1,"t":"[始] 156 [高] 158.19 [安] 154.99 [終] 157.53"},{"p":15,"k":2,"t":"[+1.11] +0.71 %"},
{"p":16,"k":1,"t":"[始] 184.19 [高] 187.36 [安] 181.89 [終] 183.99"},{"p":16,"k":2,"t":"[-1.1] -0.59 %"},
{"p":17,"k":1,"t":"[始] 160.04 [高] 161.83 [安] 157.3 [終] 159.99"},{"p":17,"k":2,"t":"[+0.02] +0.01 %"},
{"p":18,"k":1,"t":"[始] 160.44 [高] 162.5 [安] 159.38 [終] 160.75"},{"p":18,"k":2,"t":"[+0.15] +0.09 %"},
{"p":19,"k":1,"t":"[始] 183 [高] 184.99 [安] 181.2 [終] 182.51"},{"p":19,"k":2,"t":"[-0.24] -0.13 %"},
{"p":20,"k":1,"t":"[始] 162.7 [高] 164.59 [安] 161.78 [終] 164.06"},{"p":20,"k":2,"t":"[+1.41] +0.87 %"},
{"p":21,"k":1,"t":"[始] 162.62 [高] 164.16 [安] 160.53 [終] 162.04"},{"p":21,"k":2,"t":"[+0.04] +0.02 %"},
{"p":22,"k":1,"t":"[始] 95.89 [高] 96.7 [安] 95 [終] 95.53"},{"p":22,"k":2,"t":"[-0.28] -0.29 %"},
{"p":23,"k":1,"t":"[始] 141.2 [高] 142.13 [安] 139.68 [終] 140.78"},{"p":23,"k":2,"t":"[-0.24] -0.17 %"},
{"p":24,"k":1,"t":"[始] 106.81 [高] 108.01 [安] 106.09 [終] 107.08"},{"p":24,"k":2,"t":"[+0.3] +0.28 %"},
{"p":25,"k":1,"t":"[始] 132 [高] 132.92 [安] 131 [終] 132.42"},{"p":25,"k":2,"t":"[+0.64] +0.49 %"}
]},
"transform":[
{"lookup":"p","from":{"data":{"values":[{"p":1,"n":"メ:介護・葬儀 (2/7)"},{"p":2,"n":"9:鉄鋼 (2/7)"},{"p":3,"n":"エ:ゲーム (2/7)"},{"p":4,"n":"U:水素 (2/7)"},{"p":5,"n":"ス:外食 (2/7)"},{"p":6,"n":"キ:AI・人工知能 (2/7)"},{"p":7,"n":"ツ:EC (2/7)"},{"p":8,"n":"ア:海運業 (2/7)"},{"p":9,"n":"ヘ:マスコミ・配信 (2/7)"},{"p":10,"n":"O:食品飲料容器 (2/7)"},{"p":11,"n":"イ:空運業 (2/7)"},{"p":12,"n":"B:金属製品 (2/7)"},{"p":13,"n":"V:再エネ (2/7)"},{"p":14,"n":"シ:食品卸 (2/7)"},{"p":15,"n":"Y:倉庫・運輸 (2/7)"},{"p":16,"n":"H:半導体 (2/7)"},{"p":17,"n":"D:機械・工作/産業 (2/7)"},{"p":18,"n":"K:電気総合 (2/7)"},{"p":19,"n":"ニ:証券・商品先物取引 (2/7)"},{"p":20,"n":"W:鉱業・石油・石炭 (2/7)"},{"p":21,"n":"J:建設・プラント (2/7)"},{"p":22,"n":"ホ:ネット・広告 (2/7)"},{"p":23,"n":"モ:警備 (2/7)"},{"p":24,"n":"P:電池 (2/7)"},{"p":25,"n":"7:ゴム製品 (2/7)"}]},"key":"p","fields":["n"]}}
],
"facet":{"field":"n","type":"nominal","sort":{"field":"p","op":"min"},"header":{"title":null,"labels":false,"labelFontSize":1,"labelColor":"#ccffcc","labelPadding":0}},
"columns":5,
"bounds":"flush",
"spacing":{"row":42,"column":39},
"resolve":{"scale":{"x":"independent","y":"independent"}},
"spec":{
"width":341,"height":146,
"resolve":{"scale":{"x":"independent","y":"independent"}},
"layer":[
{"transform":[{"filter":"datum.k==1"}],
 "mark":{"type":"point","opacity":0},
 "encoding":{
  "x":{"field":"n","type":"nominal","title":null,"scale":{"type":"point","range":[187,187],"padding":0},
   "axis":{"orient":"top","offset":9,"domain":false,"ticks":false,"grid":false,"labelAngle":0,"labelPadding":1,"labelFontSize":13,"labelColor":"#0000ff","labelLimit":0,"labelOverlap":false}}
 }},
{"transform":[{"filter":"isValid(datum.t)"}],
 "mark":{"type":"point","opacity":0},
 "encoding":{
  "x":{"field":"t","type":"nominal","title":null,"sort":{"field":"k","op":"min"},"scale":{"type":"point","range":[262,265],"padding":0},
   "axis":{"orient":"top","domain":false,"ticks":false,"grid":false,"labelAngle":0,"labelPadding":1,"labelFontSize":11.5,"labelLimit":0,"labelOverlap":false,
    "labelAlign":{"condition":{"test":"indexof(datum.value,'始')>=0","value":"right"},"value":"left"},
    "labelColor":{"condition":[{"test":"indexof(datum.value,'[-')==0","value":"#008000"},{"test":"indexof(datum.value,'[+')==0","value":"#ff0000"}],"value":"#000000"}}},
  "y":{"field":"k","type":"nominal","title":null,"scale":{"type":"point","range":[0,0],"padding":0},"axis":null}
 }},
{"layer":[
  {"transform":[{"filter":"isValid(datum.a)"}],
   "mark":{"type":"line","color":"#ff0000","strokeWidth":3},
   "encoding":{"x":{"field":"d","type":"temporal","title":null,"scale":{"domain":[{"year":2024,"month":7,"date":15},{"year":2025,"month":2,"date":10}]},
     "axis":{"orient":"bottom","values":[{"year":2024,"month":8,"date":8},{"year":2024,"month":9,"date":2},{"year":2024,"month":10,"date":1},{"year":2024,"month":11,"date":1},{"year":2024,"month":12,"date":2},{"year":2025,"month":1,"date":6},{"year":2025,"month":2,"date":3}],
      "labelExpr":"month(datum.value)==7||month(datum.value)==0?timeFormat(datum.value,'%y/%-m/%-d'):timeFormat(datum.value,'%-m/%-d')",
      "grid":true,"domain":false,"ticks":false,"labelPadding":2,"labelFontSize":12,"labelOverlap":false,"labelFlush":false}},
    "y":{"field":"a","type":"quantitative","title":null,"scale":{"zero":false,"nice":false,"padding":21,"range":[118,0]},
     "axis":{"orient":"right","domain":false,"ticks":false,"grid":true,"tickCount":6,"labelPadding":3,"labelFontSize":12}}}},
  {"transform":[{"filter":"isValid(datum.a)"}],
   "mark":{"type":"line","color":"#0000ff","strokeWidth":3},
   "encoding":{"x":{"field":"d","type":"temporal"},"y":{"field":"b","type":"quantitative"}}},
  {"transform":[{"filter":"isValid(datum.a)"}],
   "mark":{"type":"line","color":"#00ffff","strokeWidth":2.5},
   "encoding":{"x":{"field":"d","type":"temporal"},"y":{"field":"c","type":"quantitative"}}},
  {"transform":[{"filter":"isValid(datum.h)"}],
   "mark":{"type":"text","dy":-12,"color":"#0000ff","fontSize":12},
   "encoding":{"x":{"field":"e","type":"temporal"},"y":{"field":"h","type":"quantitative"},"text":{"field":"h","type":"nominal"}}},
  {"transform":[{"filter":"isValid(datum.l)"}],
   "mark":{"type":"text","dy":12,"color":"#ff0000","fontSize":12},
   "encoding":{"x":{"field":"e","type":"temporal"},"y":{"field":"l","type":"quantitative"},"text":{"field":"l","type":"nominal"}}}
 ]},
{"transform":[{"filter":"isValid(datum.v)"}],
 "layer":[
  {"mark":{"type":"rect","fill":"#ccffcc","stroke":"#000000","strokeWidth":1},
   "encoding":{"x":{"datum":{"year":2024,"month":7,"date":15},"type":"temporal","scale":{"domain":[{"year":2024,"month":7,"date":15},{"year":2025,"month":2,"date":10}]},"axis":null},
    "x2":{"datum":{"year":2025,"month":2,"date":10}},
    "y":{"aggregate":"max","field":"v","type":"quantitative","title":null,"scale":{"range":[146,118],"nice":false,"zero":true},"axis":null},
    "y2":{"datum":0}}},
  {"mark":{"type":"bar","width":17,"stroke":"#000000","strokeWidth":0.5},
   "encoding":{"x":{"field":"d","type":"temporal","axis":null},"y":{"field":"v","type":"quantitative","axis":null},
    "color":{"condition":{"test":"datum.u==1","value":"#cc0000"},"value":"#00b4b4"}}},
  {"mark":{"type":"text","text":"Volume","align":"left","baseline":"top","color":"#999999","fontSize":12,"dy":1},
   "encoding":{"x":{"datum":{"year":2024,"month":7,"date":16},"type":"temporal","axis":null},"y":{"aggregate":"max","field":"v","type":"quantitative","axis":null}}},
  {"mark":{"type":"text","align":"right","baseline":"top","color":"#000000","fontSize":12,"dy":6},
   "encoding":{"x":{"datum":{"year":2025,"month":3,"date":2},"type":"temporal","axis":null},"y":{"aggregate":"max","field":"v","type":"quantitative","axis":null},"text":{"aggregate":"max","field":"v","type":"quantitative","format":","}}},
  {"mark":{"type":"text","align":"right","baseline":"top","color":"#000000","fontSize":12,"dy":19,"text":"(株)"},
   "encoding":{"x":{"datum":{"year":2025,"month":3,"date":2},"type":"temporal","axis":null},"y":{"aggregate":"max","field":"v","type":"quantitative","axis":null}}}
 ]}
]
},
"config":{
 "font":"Noto Sans CJK JP",
 "view":{"stroke":"#000000","strokeWidth":1.5,"fill":"#ffffff"},
 "axis":{"labelFont":"Noto Sans CJK JP","labelColor":"#000000","gridColor":"#888888","gridDash":[1,2],"gridWidth":1},
 "text":{"font":"Noto Sans CJK JP","fontSize":11}
}
}
